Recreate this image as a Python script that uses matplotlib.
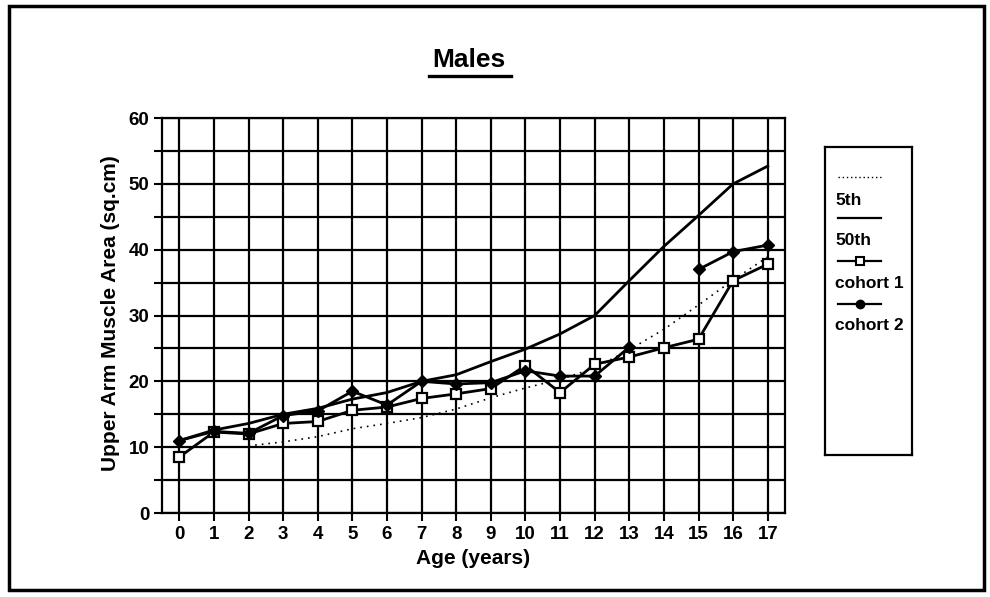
import matplotlib
matplotlib.use("Agg")
import matplotlib.pyplot as plt
from matplotlib.lines import Line2D
from matplotlib.patches import Rectangle
import numpy as np

plt.rcParams['font.family'] = ['Liberation Sans', 'DejaVu Sans']
plt.rcParams['font.weight'] = 'bold'

# data
ages = list(range(18))
p5 = [None, None, 10.2, 10.8, 11.6, 12.8, 13.6, 14.5, 15.8, 17.5, 19.0, 20.3, 22.0, 24.8, 27.9, 31.6, 35.4, 38.9]
p50 = [11.0, 12.6, 13.6, 15.0, 15.9, 17.3, 18.3, 20.0, 21.0, 23.0, 24.9, 27.2, 30.0, 35.3, 40.5, 45.2, 50.0, 52.7]
cohort1 = [8.5, 12.3, 12.0, 13.6, 13.9, 15.6, 16.1, 17.4, 18.1, 18.9, 22.4, 18.3, 22.6, 23.7, 25.1, 26.4, 35.3, 37.8]
cohort2 = [11.0, 12.4, 12.1, 14.8, 15.5, 18.5, 16.4, 20.0, 19.6, 19.8, 21.6, 20.8, 20.8, 25.2, None, 37.0, 39.7, 40.7]
legend_labels = ["5th", "50th", "cohort 1", "cohort 2"]

def arr(v):
    return np.array([np.nan if x is None else x for x in v], dtype=float)

fig = plt.figure(figsize=(9.9, 5.97), dpi=100)
ax = fig.add_axes([0.1636, 0.1407, 0.6294, 0.6616])

# gridlines
ax.set_xlim(-0.5, 17.5)
ax.set_ylim(0, 60)
ax.set_xticks(ages)
ax.set_yticks(range(0, 61, 10))
ax.set_yticks(range(5, 60, 10), minor=True)
ax.grid(True, which='both', color='black', linewidth=1.6)
ax.set_axisbelow(True)
for s in ax.spines.values():
    s.set_linewidth(1.6)
ax.tick_params(which='both', direction='out', length=6, width=1.5, labelsize=13.5)
ax.tick_params(axis='x', pad=3)
ax.tick_params(axis='y', pad=3)

# series
ax.plot(ages, arr(p5), color='black', linestyle=(0, (1, 3)), linewidth=1.2)
ax.plot(ages, arr(p50), color='black', linewidth=2)
ax.plot(ages, arr(cohort1), color='black', linewidth=2, marker='s', markersize=7,
        markerfacecolor='white', markeredgecolor='black', markeredgewidth=1.6)
ax.plot(ages, arr(cohort2), color='black', linewidth=2, marker='D', markersize=6,
        markerfacecolor='black', markeredgecolor='black')

ax.set_xlabel("Age (years)", fontsize=15, fontweight='bold', labelpad=5)
ax.set_ylabel("Upper Arm Muscle Area (sq.cm)", fontsize=15, fontweight='bold')
ax.yaxis.set_label_coords(-0.068, 0.505)

# title with underline
fig.text(0.474, 0.899, "Males", ha='center', va='center', fontsize=19, fontweight='bold')
fig.add_artist(Line2D([0.433, 0.516], [0.873, 0.873], transform=fig.transFigure,
                      color='black', linewidth=2.4))

# legend box
lax = fig.add_axes([0.833, 0.2379, 0.088, 0.516])
lax.set_xlim(0, 1)
lax.set_ylim(0, 1)
lax.set_xticks([])
lax.set_yticks([])
for s in lax.spines.values():
    s.set_linewidth(1.6)
handle_y = [0.903, 0.769, 0.63, 0.49]
label_y = [0.825, 0.695, 0.558, 0.419]
styles = [
    dict(linestyle=(0, (1, 2)), linewidth=1.0),
    dict(linewidth=1.6),
    dict(linewidth=1.6, marker='s', markersize=6, markerfacecolor='white', markeredgewidth=1.5),
    dict(linewidth=1.6, marker='o', markersize=6, markerfacecolor='black'),
]
for hy, ly, lab, st in zip(handle_y, label_y, legend_labels, styles):
    lax.plot([0.15, 0.4, 0.65], [hy, hy, hy], color='black', markevery=[1], **st)
    lax.text(0.12, ly, lab, ha='left', va='center', fontsize=12.5, fontweight='bold')

# outer frame
fig.add_artist(Rectangle((0.009, 0.012), 0.985, 0.978, transform=fig.transFigure,
                         fill=False, edgecolor='black', linewidth=2.5))

fig.savefig("out.png", dpi=100)
